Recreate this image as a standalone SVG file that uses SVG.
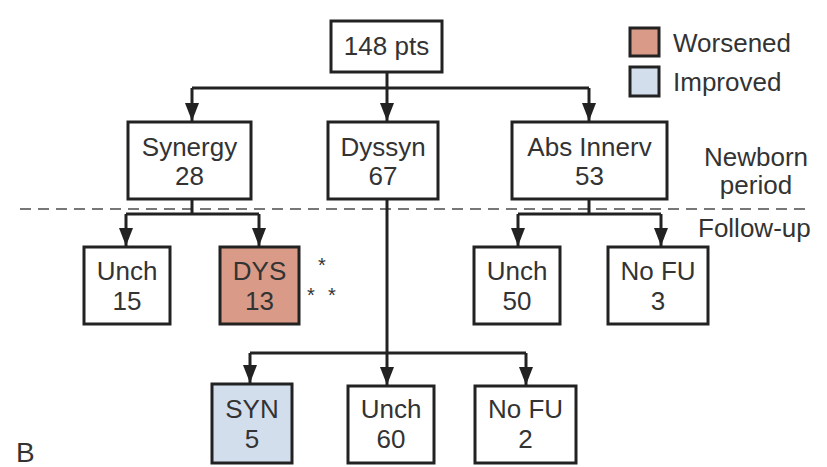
<svg xmlns="http://www.w3.org/2000/svg" width="827" height="467" viewBox="0 0 827 467">
<style>
.box{fill:#fff;stroke:#222;stroke-width:3}
.t{font-family:"Liberation Sans",Arial,sans-serif;font-size:26px;fill:#333;text-anchor:middle}
.l{font-family:"Liberation Sans",Arial,sans-serif;font-size:26px;fill:#333}
.s{font-family:"Liberation Sans",Arial,sans-serif;font-size:20px;fill:#333;text-anchor:middle}
.c{fill:none;stroke:#222;stroke-width:3}
</style>
<defs>
<marker id="ah" viewBox="0 0 18 14" refX="18" refY="7" markerWidth="18" markerHeight="14" markerUnits="userSpaceOnUse" orient="auto">
<path d="M0,0 L18,7 L0,14 z" fill="#222"/>
</marker>
</defs>
<line x1="20" y1="209" x2="812" y2="209" stroke="#777" stroke-width="2" stroke-dasharray="11,7"/>
<g id="connectors">
<path class="c" d="M387,72 V88"/>
<path class="c" d="M192,88 H589"/>
<path class="c" d="M192,88 V121" marker-end="url(#ah)"/>
<path class="c" d="M387,88 V121" marker-end="url(#ah)"/>
<path class="c" d="M589,88 V121" marker-end="url(#ah)"/>
<path class="c" d="M192,199 V214"/>
<path class="c" d="M126,214 H259"/>
<path class="c" d="M126,214 V246" marker-end="url(#ah)"/>
<path class="c" d="M259,214 V246" marker-end="url(#ah)"/>
<path class="c" d="M589,199 V214"/>
<path class="c" d="M518,214 H661"/>
<path class="c" d="M518,214 V246" marker-end="url(#ah)"/>
<path class="c" d="M661,214 V246" marker-end="url(#ah)"/>
<path class="c" d="M387,199 V385" marker-end="url(#ah)"/>
<path class="c" d="M250,353 H526"/>
<path class="c" d="M250,353 V383" marker-end="url(#ah)"/>
<path class="c" d="M526,353 V385" marker-end="url(#ah)"/>
</g>
<g id="n148"><rect class="box" x="331" y="21" width="111" height="51"/><text class="t" x="386.5" y="55">148 pts</text></g>
<g id="synergy"><rect class="box" x="128" y="122" width="123" height="77"/><text class="t" x="189.5" y="156">Synergy</text><text class="t" x="189.5" y="185">28</text></g>
<g id="dyssyn"><rect class="box" x="328" y="122" width="110" height="77"/><text class="t" x="383" y="156">Dyssyn</text><text class="t" x="383" y="185">67</text></g>
<g id="absinnerv"><rect class="box" x="512" y="122" width="155" height="77"/><text class="t" x="589.5" y="156">Abs Innerv</text><text class="t" x="589.5" y="185">53</text></g>
<g id="unch15"><rect class="box" x="84" y="247" width="86" height="77"/><text class="t" x="127" y="280">Unch</text><text class="t" x="127" y="310">15</text></g>
<g id="dys13"><rect class="box" x="220" y="247" width="79" height="77" style="fill:#d99a88"/><text class="t" x="259.5" y="280">DYS</text><text class="t" x="259.5" y="310">13</text></g>
<g id="unch50"><rect class="box" x="474" y="247" width="86" height="77"/><text class="t" x="517" y="280">Unch</text><text class="t" x="517" y="310">50</text></g>
<g id="nofu3"><rect class="box" x="608" y="247" width="100" height="77"/><text class="t" x="658" y="280">No FU</text><text class="t" x="658" y="310">3</text></g>
<g id="syn5"><rect class="box" x="212" y="384" width="80" height="79" style="fill:#d3deed"/><text class="t" x="252" y="418">SYN</text><text class="t" x="252" y="448">5</text></g>
<g id="unch60"><rect class="box" x="348" y="386" width="86" height="77"/><text class="t" x="391" y="418">Unch</text><text class="t" x="391" y="448">60</text></g>
<g id="nofu2"><rect class="box" x="475" y="386" width="101" height="77"/><text class="t" x="525.5" y="418">No FU</text><text class="t" x="525.5" y="448">2</text></g>
<g id="legend">
<rect x="630" y="28" width="29" height="28" fill="#d99a88" stroke="#222" stroke-width="3"/>
<text class="l" x="673" y="52">Worsened</text>
<rect x="630" y="67" width="29" height="29" fill="#d3deed" stroke="#222" stroke-width="3"/>
<text class="l" x="673" y="91">Improved</text>
</g>
<text class="t" x="756" y="166">Newborn</text>
<text class="t" x="756" y="194">period</text>
<text class="l" x="698" y="237">Follow-up</text>
<text class="s" x="322" y="272">*</text>
<text class="s" x="311" y="302">*</text>
<text class="s" x="332" y="302">*</text>
<text class="l" x="16" y="462" style="font-size:28px">B</text>
</svg>
